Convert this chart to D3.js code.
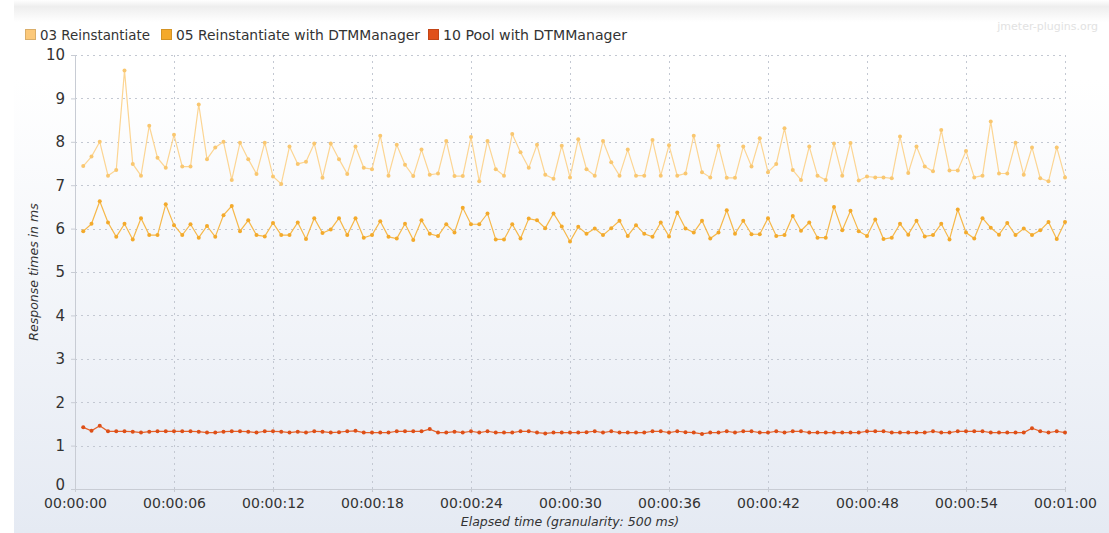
<!DOCTYPE html>
<meta charset="utf-8">
<style>
    html, body {
        margin: 0;
        padding: 0;
        width: 1109px;
        height: 533px;
        overflow: hidden;
        background: #fff;
    }
    svg text {
        font-family: "DejaVu Sans", sans-serif;
        fill: #333;
    }
</style>
<body>
<svg id="chart" width="1109" height="533"></svg>
<script src="https://d3js.org/d3.v7.min.js"></script>
<script>
    // series names, in legend order
    const seriesNames = ["03 Reinstantiate", "05 Reinstantiate with DTMManager", "10 Pool with DTMManager"];

    // one point per 500 ms bucket, 0.5s .. 60s
    const reinstantiate = [
        7.44, 7.66, 8.00, 7.22, 7.35, 9.64, 7.49, 7.22, 8.37, 7.63,
        7.40, 8.16, 7.43, 7.43, 8.86, 7.60, 7.87, 8.00, 7.12, 7.98,
        7.60, 7.26, 7.98, 7.20, 7.03, 7.89, 7.49, 7.54, 7.96, 7.17,
        7.96, 7.60, 7.26, 7.89, 7.40, 7.37, 8.14, 7.22, 7.93, 7.47,
        7.21, 7.82, 7.24, 7.27, 8.02, 7.21, 7.21, 8.11, 7.09, 8.02,
        7.37, 7.22, 8.18, 7.76, 7.40, 7.93, 7.24, 7.15, 7.91, 7.18,
        8.06, 7.37, 7.22, 8.02, 7.53, 7.22, 7.82, 7.22, 7.22, 8.04,
        7.22, 7.92, 7.22, 7.27, 8.14, 7.30, 7.18, 7.91, 7.17, 7.17,
        7.89, 7.43, 8.08, 7.30, 7.49, 8.31, 7.35, 7.12, 7.89, 7.22,
        7.12, 7.96, 7.22, 7.97, 7.11, 7.20, 7.18, 7.18, 7.16, 8.12,
        7.28, 7.89, 7.43, 7.32, 8.27, 7.34, 7.34, 7.79, 7.18, 7.22,
        8.47, 7.27, 7.27, 7.98, 7.24, 7.87, 7.16, 7.09, 7.87, 7.18
    ];
    const reinstantiateDtm = [
        5.94, 6.11, 6.63, 6.14, 5.81, 6.11, 5.75, 6.24, 5.85, 5.85,
        6.56, 6.08, 5.85, 6.10, 5.79, 6.06, 5.81, 6.31, 6.52, 5.94,
        6.19, 5.85, 5.82, 6.13, 5.85, 5.85, 6.14, 5.76, 6.24, 5.90,
        5.98, 6.24, 5.85, 6.24, 5.79, 5.85, 6.17, 5.81, 5.77, 6.11,
        5.74, 6.19, 5.88, 5.83, 6.10, 5.91, 6.48, 6.10, 6.10, 6.35,
        5.75, 5.75, 6.10, 5.77, 6.23, 6.19, 6.01, 6.35, 6.05, 5.70,
        6.04, 5.88, 6.00, 5.85, 6.01, 6.18, 5.83, 6.08, 5.88, 5.81,
        6.14, 5.82, 6.37, 6.00, 5.91, 6.18, 5.77, 5.91, 6.42, 5.88,
        6.18, 5.87, 5.87, 6.24, 5.83, 5.85, 6.29, 5.95, 6.14, 5.79,
        5.79, 6.50, 5.96, 6.41, 5.94, 5.83, 6.21, 5.76, 5.79, 6.11,
        5.86, 6.18, 5.82, 5.85, 6.11, 5.75, 6.44, 5.91, 5.77, 6.24,
        6.02, 5.86, 6.13, 5.85, 6.00, 5.85, 5.96, 6.15, 5.76, 6.15
    ];
    const poolDtm = [
        1.42, 1.34, 1.46, 1.33, 1.33, 1.33, 1.32, 1.30, 1.32, 1.33,
        1.33, 1.33, 1.33, 1.33, 1.32, 1.30, 1.30, 1.32, 1.33, 1.33,
        1.32, 1.30, 1.33, 1.33, 1.32, 1.30, 1.32, 1.30, 1.33, 1.32,
        1.30, 1.31, 1.33, 1.34, 1.30, 1.30, 1.30, 1.30, 1.33, 1.33,
        1.33, 1.33, 1.38, 1.30, 1.30, 1.32, 1.30, 1.33, 1.30, 1.33,
        1.30, 1.30, 1.30, 1.33, 1.33, 1.30, 1.28, 1.30, 1.30, 1.30,
        1.30, 1.31, 1.33, 1.30, 1.33, 1.30, 1.30, 1.30, 1.30, 1.33,
        1.33, 1.30, 1.33, 1.31, 1.30, 1.27, 1.30, 1.30, 1.33, 1.30,
        1.33, 1.33, 1.30, 1.30, 1.33, 1.30, 1.33, 1.33, 1.30, 1.30,
        1.30, 1.30, 1.30, 1.30, 1.30, 1.33, 1.33, 1.33, 1.30, 1.30,
        1.30, 1.30, 1.30, 1.33, 1.30, 1.30, 1.33, 1.33, 1.33, 1.33,
        1.30, 1.30, 1.30, 1.30, 1.30, 1.40, 1.33, 1.30, 1.33, 1.30
    ];
    const granularity = 0.5; // seconds
    const xTickValues = [0, 6, 12, 18, 24, 30, 36, 42, 48, 54, 60];
    const xTickLabels = ["00:00:00", "00:00:06", "00:00:12", "00:00:18", "00:00:24", "00:00:30",
        "00:00:36", "00:00:42", "00:00:48", "00:00:54", "00:01:00"];
    const yTickValues = [0, 1, 2, 3, 4, 5, 6, 7, 8, 9, 10];

    const lineColors = ["#fcd593", "#f6b84a", "#e5622a"];
    const dotColors = ["#f9c770", "#f3aa2c", "#dd4f17"];
    const legendFill = ["#fcc97a", "#f4a92a", "#e0501a"];

    const svg = d3.select("#chart");
    const W = 1109, H = 533;
    const plot = {left: 75, right: 1065, top: 55, bottom: 489};

    // backgrounds
    const defs = svg.append("defs");
    const bg = defs.append("linearGradient").attr("id", "bg")
        .attr("x1", 0).attr("y1", 0).attr("x2", 0).attr("y2", 1);
    bg.append("stop").attr("offset", "0%").attr("stop-color", "#ffffff");
    bg.append("stop").attr("offset", "15%").attr("stop-color", "#ffffff");
    bg.append("stop").attr("offset", "100%").attr("stop-color", "#e5eaf3");
    const topBand = defs.append("linearGradient").attr("id", "topband")
        .attr("x1", 0).attr("y1", 0).attr("x2", 0).attr("y2", 1);
    topBand.append("stop").attr("offset", "0%").attr("stop-color", "#ffffff");
    topBand.append("stop").attr("offset", "30%").attr("stop-color", "#eeeeee");
    topBand.append("stop").attr("offset", "100%").attr("stop-color", "#ffffff");

    svg.append("rect").attr("x", 14).attr("y", 0).attr("width", W - 14).attr("height", H)
        .attr("fill", "url(#bg)");
    svg.append("rect").attr("x", 14).attr("y", 0).attr("width", W - 14).attr("height", 22)
        .attr("fill", "url(#topband)");

    const x = d3.scaleLinear().domain([0, 60]).range([plot.left, plot.right]);
    const y = d3.scaleLinear().domain([0, 10]).range([plot.bottom, plot.top]);

    // grid
    const grid = svg.append("g").attr("class", "grid")
        .attr("stroke", "#c3c8d2").attr("stroke-width", 1).attr("stroke-dasharray", "2,4");
    grid.selectAll(".hg").data(yTickValues.filter(v => v > 0)).join("line")
        .attr("x1", plot.left).attr("x2", plot.right)
        .attr("y1", d => Math.round(y(d)) + 0.5).attr("y2", d => Math.round(y(d)) + 0.5);
    grid.selectAll(".vg").data(xTickValues.filter(v => v > 0)).join("line")
        .attr("y1", plot.top).attr("y2", plot.bottom)
        .attr("x1", d => Math.round(x(d)) + 0.5).attr("x2", d => Math.round(x(d)) + 0.5);

    // axes
    const yAxis = d3.axisLeft(y).tickValues(yTickValues).tickSize(4).tickPadding(6);
    const xAxis = d3.axisBottom(x).tickValues(xTickValues).tickSize(3).tickPadding(6)
        .tickFormat((d, i) => xTickLabels[i]);

    const gy = svg.append("g").attr("transform", `translate(${plot.left},0)`).call(yAxis);
    const gx = svg.append("g").attr("transform", `translate(0,${plot.bottom})`).call(xAxis);
    [gx, gy].forEach(g => {
        g.select(".domain").attr("stroke", "#c8ccd4");
        g.selectAll(".tick line").attr("stroke", "#c8ccd4");
        g.selectAll(".tick text").attr("fill", "#333").attr("font-size", 14)
            .attr("font-family", "DejaVu Sans, sans-serif");
    });
    gy.selectAll(".tick text").attr("font-size", 15);
    // the "0" label sits just above the first time label
    gy.selectAll(".tick text").filter(d => d === 0).attr("dy", "0.05em");

    svg.append("text")
        .attr("transform", `translate(38,${(plot.top + plot.bottom) / 2}) rotate(-90)`)
        .attr("text-anchor", "middle")
        .attr("font-size", 12.5).attr("font-style", "italic")
        .text("Response times in ms");
    svg.append("text")
        .attr("x", 570).attr("y", 526)
        .attr("text-anchor", "middle")
        .attr("font-size", 12.5).attr("font-style", "italic")
        .text("Elapsed time (granularity: 500 ms)");

    // watermark
    svg.append("text")
        .attr("x", 1098).attr("y", 30).attr("text-anchor", "end")
        .attr("font-size", 11).style("fill", "#e2e2e2")
        .text("jmeter-plugins.org");

    // series
    const allSeries = [reinstantiate, reinstantiateDtm, poolDtm];
    const line = d3.line()
        .x((d, i) => x((i + 1) * granularity))
        .y(d => y(d));

    allSeries.forEach((values, k) => {
        const g = svg.append("g");
        g.append("path")
            .datum(values)
            .attr("fill", "none")
            .attr("stroke", lineColors[k])
            .attr("stroke-width", 1.2)
            .attr("d", line);
        g.selectAll("circle").data(values).join("circle")
            .attr("cx", (d, i) => x((i + 1) * granularity))
            .attr("cy", d => y(d))
            .attr("r", 2)
            .attr("fill", dotColors[k]);
    });

    // legend
    const legendX = [25, 161, 428];
    const legendWidth = [110, 244, 184];
    const legend = svg.append("g");
    seriesNames.forEach((name, k) => {
        legend.append("rect")
            .attr("x", legendX[k] + 0.5).attr("y", 29.5)
            .attr("width", 10).attr("height", 10)
            .attr("fill", legendFill[k])
            .attr("stroke", d3.color(legendFill[k]).darker(0.4));
        legend.append("text")
            .attr("x", legendX[k] + 15).attr("y", 39.5)
            .attr("font-size", 13.5)
            .attr("textLength", legendWidth[k])
            .attr("lengthAdjust", "spacingAndGlyphs")
            .text(name);
    });
</script>
</body>
